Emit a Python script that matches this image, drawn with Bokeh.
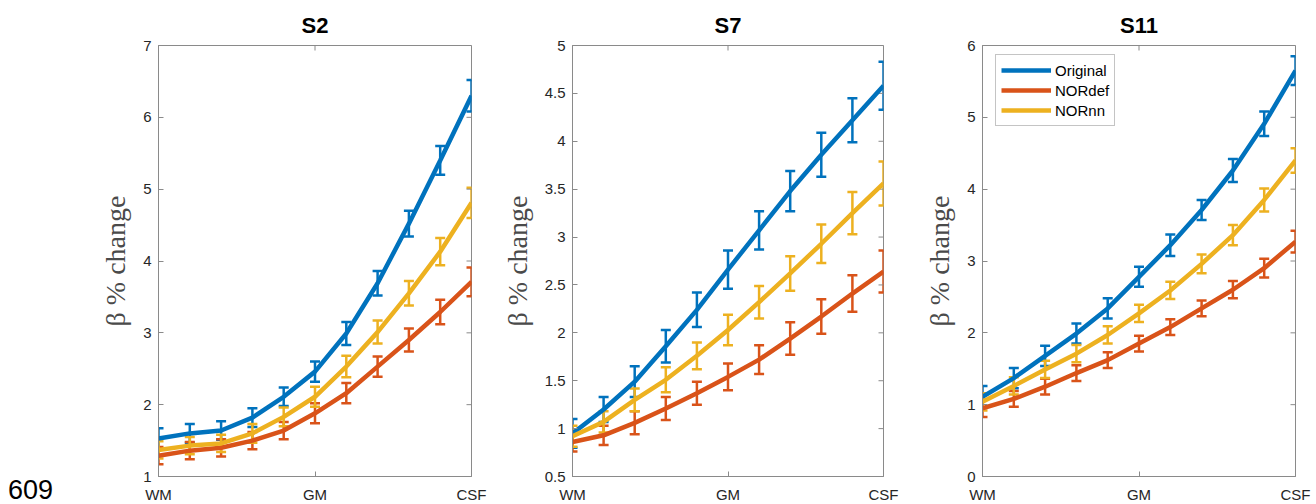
import math
from bokeh.plotting import figure
from bokeh.models import (ColumnDataSource, Whisker, TeeHead, FixedTicker,
                          Legend, LegendItem, Range1d, Div)
from bokeh.layouts import row
from bokeh.embed import file_html
from bokeh.resources import INLINE

# cortical depth positions: WM (0) -> GM (5) -> CSF (10)
depth = list(range(11))
depth_ticks = [0, 5, 10]
depth_labels = ["WM", "GM", "CSF"]

series_names = ["Original", "NORdef", "NORnn"]
series_colors = ["#0072BD", "#D95319", "#EDB120"]

# subject S2
s2_original = [1.53, 1.60, 1.64, 1.82, 2.11, 2.46, 2.99, 3.69, 4.52, 5.40, 6.30]
s2_original_err = [0.14, 0.13, 0.13, 0.13, 0.13, 0.14, 0.16, 0.17, 0.18, 0.20, 0.22]
s2_nordef = [1.29, 1.36, 1.40, 1.50, 1.64, 1.88, 2.16, 2.53, 2.90, 3.29, 3.71]
s2_nordef_err = [0.12, 0.12, 0.12, 0.12, 0.12, 0.14, 0.14, 0.14, 0.16, 0.17, 0.20]
s2_nornn = [1.37, 1.43, 1.46, 1.60, 1.83, 2.11, 2.53, 3.01, 3.55, 4.13, 4.81]
s2_nornn_err = [0.12, 0.12, 0.12, 0.13, 0.13, 0.14, 0.15, 0.16, 0.17, 0.19, 0.21]
s2_yticks = [1, 2, 3, 4, 5, 6, 7]

# subject S7
s7_original = [0.95, 1.20, 1.49, 1.86, 2.24, 2.66, 3.07, 3.48, 3.86, 4.22, 4.58]
s7_original_err = [0.15, 0.13, 0.16, 0.17, 0.18, 0.20, 0.20, 0.21, 0.23, 0.23, 0.25]
s7_nordef = [0.86, 0.93, 1.06, 1.21, 1.37, 1.54, 1.72, 1.94, 2.17, 2.41, 2.64]
s7_nordef_err = [0.10, 0.10, 0.12, 0.12, 0.12, 0.14, 0.15, 0.17, 0.18, 0.19, 0.22]
s7_nornn = [0.92, 1.07, 1.30, 1.51, 1.76, 2.03, 2.32, 2.62, 2.93, 3.25, 3.56]
s7_nornn_err = [0.11, 0.11, 0.12, 0.13, 0.14, 0.16, 0.17, 0.18, 0.20, 0.22, 0.23]
s7_yticks = [0.5, 1, 1.5, 2, 2.5, 3, 3.5, 4, 4.5, 5]

# subject S11
s11_original = [1.11, 1.37, 1.68, 1.99, 2.34, 2.78, 3.22, 3.71, 4.26, 4.91, 5.65]
s11_original_err = [0.15, 0.14, 0.14, 0.14, 0.14, 0.14, 0.15, 0.14, 0.16, 0.17, 0.20]
s11_nordef = [0.95, 1.08, 1.25, 1.44, 1.62, 1.85, 2.08, 2.34, 2.60, 2.90, 3.27]
s11_nordef_err = [0.12, 0.11, 0.11, 0.11, 0.11, 0.11, 0.11, 0.11, 0.12, 0.13, 0.15]
s11_nornn = [1.04, 1.26, 1.49, 1.71, 1.97, 2.27, 2.59, 2.96, 3.36, 3.85, 4.40]
s11_nornn_err = [0.12, 0.12, 0.12, 0.12, 0.12, 0.12, 0.12, 0.13, 0.14, 0.16, 0.17]
s11_yticks = [0, 1, 2, 3, 4, 5, 6]

SANS = "Liberation Sans"
TICK_COLOR = "#262626"
BOX_COLOR = "#8a8a8a"


def fmt(v):
    return "%g" % v


def style_axis(ax, ticks, labels):
    ax.ticker = FixedTicker(ticks=ticks)
    ax.major_tick_in = 5
    ax.major_tick_out = 0
    ax.minor_tick_in = 0
    ax.minor_tick_out = 0
    ax.axis_line_color = BOX_COLOR
    ax.major_tick_line_color = BOX_COLOR
    ax.major_label_text_font = SANS
    ax.major_label_text_font_size = "15px"
    ax.major_label_text_color = TICK_COLOR
    ax.major_label_overrides = {t: l for t, l in zip(ticks, labels)}


def panel(title, yr, yticks, values, errs, left, frame_w, right, legend=False):
    p = figure(frame_width=frame_w, frame_height=431,
               min_border_left=left, min_border_right=right,
               min_border_top=45, min_border_bottom=28,
               x_range=Range1d(0, 10), y_range=Range1d(*yr),
               output_backend="svg", toolbar_location=None,
               background_fill_color="white", border_fill_color="white")
    p.grid.visible = False
    p.outline_line_color = BOX_COLOR
    p.outline_line_width = 1

    p.title.text = title
    p.title.text_font = SANS
    p.title.text_font_style = "bold"
    p.title.text_font_size = "22px"
    p.title.text_color = "#000000"
    p.title.align = "center"
    p.title.vertical_align = "middle"
    p.title.standoff = 13

    style_axis(p.xaxis[0], depth_ticks, depth_labels)
    p.xaxis[0].major_label_standoff = 9
    style_axis(p.yaxis[0], yticks, [fmt(t) for t in yticks])
    p.yaxis[0].major_label_standoff = 7
    p.yaxis[0].axis_label = "β % change"
    p.yaxis[0].axis_label_text_font = "Liberation Serif"
    p.yaxis[0].axis_label_text_font_style = "normal"
    p.yaxis[0].axis_label_text_font_size = "28px"
    p.yaxis[0].axis_label_text_color = "#4a4a4a"
    p.yaxis[0].axis_label_standoff = 9

    # inward ticks on the right and top edges of the box
    p.ray(x=[10] * len(yticks), y=yticks, length=5, length_units="screen",
          angle=math.pi, line_color=BOX_COLOR, line_width=1)
    p.ray(x=depth_ticks, y=[yr[1]] * len(depth_ticks), length=5,
          length_units="screen", angle=-math.pi / 2,
          line_color=BOX_COLOR, line_width=1)

    items = []
    for name, color, v, e in zip(series_names, series_colors, values, errs):
        src = ColumnDataSource(dict(
            x=depth, y=v,
            lo=[a - b for a, b in zip(v, e)],
            hi=[a + b for a, b in zip(v, e)]))
        r = p.line("x", "y", source=src, line_color=color, line_width=4.5)
        w = Whisker(source=src, base="x", lower="lo", upper="hi",
                    line_color=color, line_width=2.5,
                    upper_head=TeeHead(size=10, line_color=color, line_width=2.5),
                    lower_head=TeeHead(size=10, line_color=color, line_width=2.5))
        p.add_layout(w)
        items.append(LegendItem(label=name, renderers=[r]))

    if legend:
        lg = Legend(items=items, location=(13, 350))
        lg.label_text_font = SANS
        lg.label_text_font_size = "15px"
        lg.label_text_color = "#000000"
        lg.glyph_width = 50
        lg.glyph_height = 20
        lg.label_height = 20
        lg.label_standoff = 4
        lg.spacing = 0
        lg.padding = 5
        lg.margin = 0
        lg.border_line_color = BOX_COLOR
        lg.border_line_width = 1
        lg.background_fill_alpha = 1
        p.add_layout(lg, "center")
    return p


# figure number in the lower-left margin
page_number = Div(
    text=("<div style=\"margin-top:477px;margin-left:8px;font-family:'Liberation Sans';"
          "font-size:27px;line-height:27px;color:#000000\">609</div>"),
    width=90, height=504, margin=0)

p1 = panel("S2", (1, 7), s2_yticks,
           [s2_original, s2_nordef, s2_nornn],
           [s2_original_err, s2_nordef_err, s2_nornn_err], 68, 313, 19)

p2 = panel("S7", (0.5, 5), s7_yticks,
           [s7_original, s7_nordef, s7_nornn],
           [s7_original_err, s7_nordef_err, s7_nornn_err], 82, 311, 17)

p3 = panel("S11", (0, 6), s11_yticks,
           [s11_original, s11_nordef, s11_nornn],
           [s11_original_err, s11_nordef_err, s11_nornn_err], 82, 313, 21,
           legend=True)

layout = row(page_number, p1, p2, p3, spacing=0)
open("out.html", "w").write(file_html(layout, INLINE))
